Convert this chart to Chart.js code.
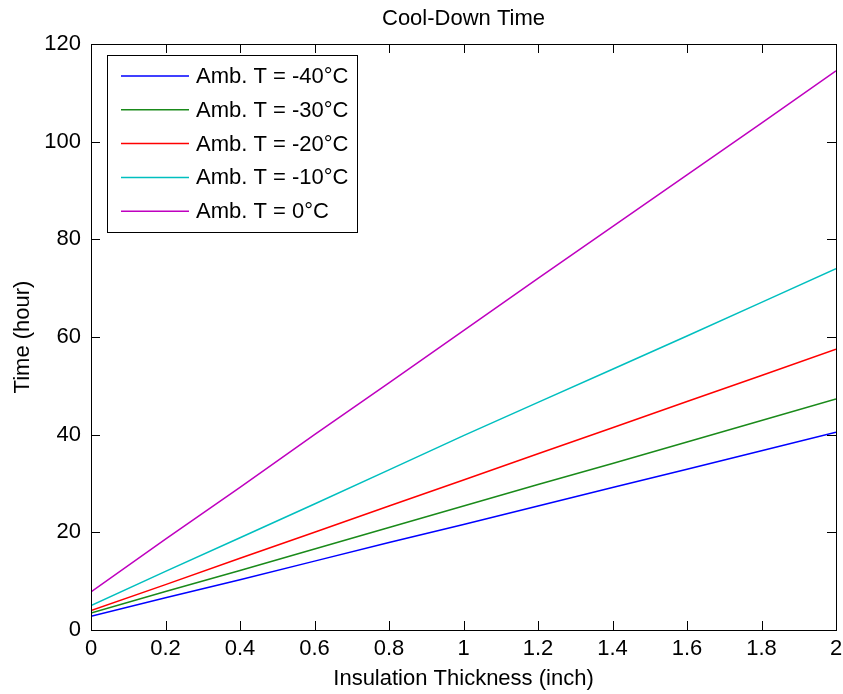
<!DOCTYPE html>
<html>
<head>
<meta charset="utf-8">
<script src="https://cdn.jsdelivr.net/npm/chart.js@4"></script>
<style>
body { margin: 0; background: #fff; }
</style>
</head>
<body>
<canvas id="coolChart" width="843" height="694"></canvas>
<script>
// insulation thickness (inch)
var thickness = [0, 0.2, 0.4, 0.6, 0.8, 1.0, 1.2, 1.4, 1.6, 1.8, 2.0]

// cool-down time (hour) for each ambient temperature
var ambLabels = ['Amb. T = -40°C', 'Amb. T = -30°C', 'Amb. T = -20°C', 'Amb. T = -10°C', 'Amb. T = 0°C']
var tMinus40 = [2.8, 6.6, 10.3, 14.1, 17.9, 21.6, 25.4, 29.2, 32.9, 36.7, 40.5]
var tMinus30 = [3.5, 7.9, 12.2, 16.6, 21.0, 25.4, 29.8, 34.1, 38.5, 42.9, 47.3]
var tMinus20 = [4.0, 9.3, 14.7, 20.0, 25.4, 30.7, 36.1, 41.4, 46.8, 52.1, 57.5]
var tMinus10 = [5.0, 12.0, 18.9, 25.8, 32.8, 39.8, 46.6, 53.4, 60.2, 67.1, 74.0]
var tZero = [7.8, 18.6, 29.2, 40.0, 50.6, 61.3, 72.0, 82.6, 93.2, 103.8, 114.5]

var chartTitle = 'Cool-Down Time'
var lineColors = ['#0000ff', '#1a8a1a', '#ff0000', '#00bfbf', '#bf00bf']
var allSeries = [tMinus40, tMinus30, tMinus20, tMinus10, tZero]

var fontFam = '"Liberation Sans", Arial, sans-serif'

function pts(ys) {
	return ys.map(function(y, i) { return { x: thickness[i], y: y } })
}

var datasets = allSeries.map(function(s, i) {
	return {
		label: ambLabels[i],
		data: pts(s),
		borderColor: lineColors[i],
		backgroundColor: lineColors[i],
		borderWidth: 1.5,
		pointRadius: 0,
		tension: 0,
		fill: false
	}
})

// matlab style box, inward ticks, title over the axes and legend inside
var matlabBox = {
	id: 'matlabBox',
	afterDraw: function(chart) {
		var ctx = chart.ctx
		var a = chart.chartArea
		var xs = chart.scales.x
		var ys = chart.scales.y
		var tl = 9
		ctx.save()
		ctx.strokeStyle = '#000'
		ctx.lineWidth = 1
		ctx.beginPath()
		xs.ticks.forEach(function(t) {
			var px = Math.round(xs.getPixelForValue(t.value)) + 0.5
			ctx.moveTo(px, a.bottom); ctx.lineTo(px, a.bottom - tl)
			ctx.moveTo(px, a.top); ctx.lineTo(px, a.top + tl)
		})
		ys.ticks.forEach(function(t) {
			var py = Math.round(ys.getPixelForValue(t.value)) + 0.5
			ctx.moveTo(a.left, py); ctx.lineTo(a.left + tl, py)
			ctx.moveTo(a.right, py); ctx.lineTo(a.right - tl, py)
		})
		ctx.stroke()
		ctx.strokeRect(Math.round(a.left) + 0.5, Math.round(a.top) + 0.5, Math.round(a.right - a.left), Math.round(a.bottom - a.top))

		// title
		ctx.fillStyle = '#000'
		ctx.font = '22px ' + fontFam
		ctx.textAlign = 'center'
		ctx.textBaseline = 'middle'
		ctx.fillText(chartTitle, (a.left + a.right) / 2, 19)

		// legend
		var lx = Math.round(a.left) + 16, ly = Math.round(a.top) + 11
		var lw = 250, lh = 177, rowH = 33.8
		ctx.fillStyle = '#fff'
		ctx.fillRect(lx, ly, lw, lh)
		ctx.strokeStyle = '#000'
		ctx.lineWidth = 1
		ctx.strokeRect(lx + 0.5, ly + 0.5, lw, lh)
		ctx.textAlign = 'left'
		chart.data.datasets.forEach(function(ds, i) {
			var cy = ly + 21 + i * rowH
			ctx.strokeStyle = ds.borderColor
			ctx.lineWidth = 1.5
			ctx.beginPath()
			ctx.moveTo(lx + 14, cy); ctx.lineTo(lx + 82, cy)
			ctx.stroke()
			ctx.fillStyle = '#000'
			ctx.fillText(ds.label, lx + 89, cy + 1)
		})
		ctx.restore()
	}
}

var whiteBg = {
	id: 'whiteBg',
	beforeDraw: function(chart) {
		var ctx = chart.ctx
		ctx.save()
		ctx.fillStyle = '#fff'
		ctx.fillRect(0, 0, chart.width, chart.height)
		ctx.restore()
	}
}

var ctx = document.getElementById('coolChart').getContext('2d')
var coolChart = new Chart(ctx, {
	type: 'line',
	data: { datasets: datasets },
	plugins: [whiteBg, matlabBox],
	options: {
		responsive: false,
		animation: false,
		layout: { padding: { left: 0, right: 7, top: 44, bottom: 0 } },
		plugins: {
			legend: { display: false },
			tooltip: { enabled: false },
			title: { display: false }
		},
		scales: {
			x: {
				type: 'linear',
				min: 0,
				max: 2,
				grid: { display: false, drawTicks: false },
				border: { display: false },
				ticks: {
					stepSize: 0.2,
					padding: 6,
					color: '#000',
					font: { family: fontFam, size: 22 },
					maxRotation: 0,
					callback: function(v) { return String(Math.round(v * 10) / 10) }
				},
				title: {
					display: true,
					text: 'Insulation Thickness (inch)',
					color: '#000',
					font: { family: fontFam, size: 22 },
					padding: { top: 0, bottom: 2 }
				},
				afterFit: function(s) {
					s.height = 64
					s.paddingLeft = 0
					s.paddingRight = 0
				}
			},
			y: {
				min: 0,
				max: 120,
				grid: { display: false, drawTicks: false },
				border: { display: false },
				ticks: {
					stepSize: 20,
					padding: 10,
					color: '#000',
					font: { family: fontFam, size: 22 }
				},
				title: {
					display: true,
					text: 'Time (hour)',
					color: '#000',
					font: { family: fontFam, size: 22 },
					padding: { top: 10, bottom: 0 }
				},
				afterFit: function(s) {
					s.width = 91
					s.paddingTop = 0
					s.paddingBottom = 0
				}
			}
		}
	}
})
</script>
</body>
</html>
